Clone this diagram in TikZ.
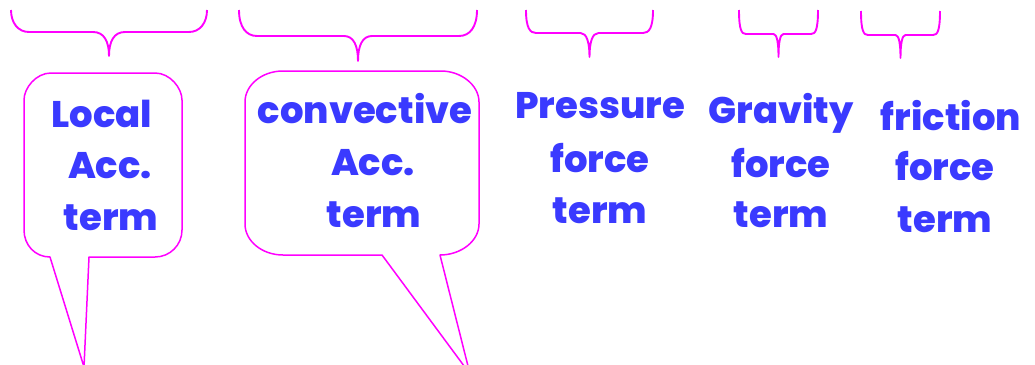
\documentclass[tikz,border=0pt]{standalone}
\usepackage{fontspec}
\setmainfont{Poppins}[BoldFont={Poppins ExtraBold}]
\definecolor{termblue}{RGB}{58,58,255}
\definecolor{bracemag}{RGB}{255,0,255}
% horizontal brace opening upwards:
% #1 left x, #2 right x, #3 top y, #4 bar y, #5 tip y, #6 end radius, #7 middle radius
\newcommand\termbrace[7]{%
  \draw[outline,line width=1.9pt] (#1,#3) .. controls (#1,{#4-0.5*#6}) and ({#1+0.4*#6},#4) .. ({#1+#6},#4)
    -- ({(#1+#2)/2-#7},#4) .. controls ({(#1+#2)/2-0.3*#7},#4) and ({(#1+#2)/2},{#4+0.4*(#5-#4)}) .. ({(#1+#2)/2},#5)
    .. controls ({(#1+#2)/2},{#4+0.4*(#5-#4)}) and ({(#1+#2)/2+0.3*#7},#4) .. ({(#1+#2)/2+#7},#4)
    -- ({#2-#6},#4) .. controls ({#2-0.4*#6},#4) and (#2,{#4-0.5*#6}) .. (#2,#3);}
\begin{document}
\begin{tikzpicture}[x=1pt,y=-1pt,
  outline/.style={draw=bracemag,line width=1.5pt,line join=round},
  lbl/.style={text=termblue,font=\bfseries\fontsize{37}{44}\selectfont,inner sep=0pt,anchor=base}]
\useasboundingbox (0,0) rectangle (1035,364);
\clip (0,0) rectangle (1035,364);

% braces over the terms
\termbrace{11}{207}{10}{32}{56}{18}{16}
\termbrace{239}{477}{10}{36}{61}{18}{14}
\termbrace{526}{653}{10}{33}{57}{10}{9}
\termbrace{739}{818}{10}{34}{57}{7}{5}
\termbrace{861}{940}{11}{35}{58}{7}{5}

% speech bubbles
\draw[outline,fill=white] (89,257) -- (155,257) .. controls (170,257) and (182,245) .. (182,230)
  -- (182,100) .. controls (182,88) and (170,73) .. (155,73)
  -- (51,73) .. controls (36,73) and (24,88) .. (24,100)
  -- (24,230) .. controls (24,245) and (35,257) .. (50,257)
  -- (84,367) -- cycle;
\draw[outline,fill=white] (440,255) .. controls (461,255) and (479,241) .. (479,224)
  -- (479,102) .. controls (479,85) and (461,71) .. (441,71)
  -- (283,71) .. controls (262,71) and (245,85) .. (245,102)
  -- (245,224) .. controls (245,241) and (262,255) .. (283,255)
  -- (382,255) -- (470,374) -- cycle;

% term labels
\node[lbl] (loc1) at (102,127) {Local};
\node[lbl] (loc2) at (110,178) {Acc.};
\node[lbl] (loc3) at (111,230) {term};
\node[lbl] (con1) at (365,123) {convective};
\node[lbl] (con2) at (373,175) {Acc.};
\node[lbl] (con3) at (374,227) {term};
\node[lbl] (pre1) at (600,118) {Pressure};
\node[lbl] (pre2) at (600,172) {force};
\node[lbl] (pre3) at (600,223) {term};
\node[lbl] (gra1) at (781,123) {Gravity};
\node[lbl] (gra2) at (781,177) {force};
\node[lbl] (gra3) at (781,227) {term};
\node[lbl] (fri1) at (951,130) {friction};
\node[lbl] (fri2) at (945,180) {force};
\node[lbl] (fri3) at (945,232) {term};
\end{tikzpicture}
\end{document}
